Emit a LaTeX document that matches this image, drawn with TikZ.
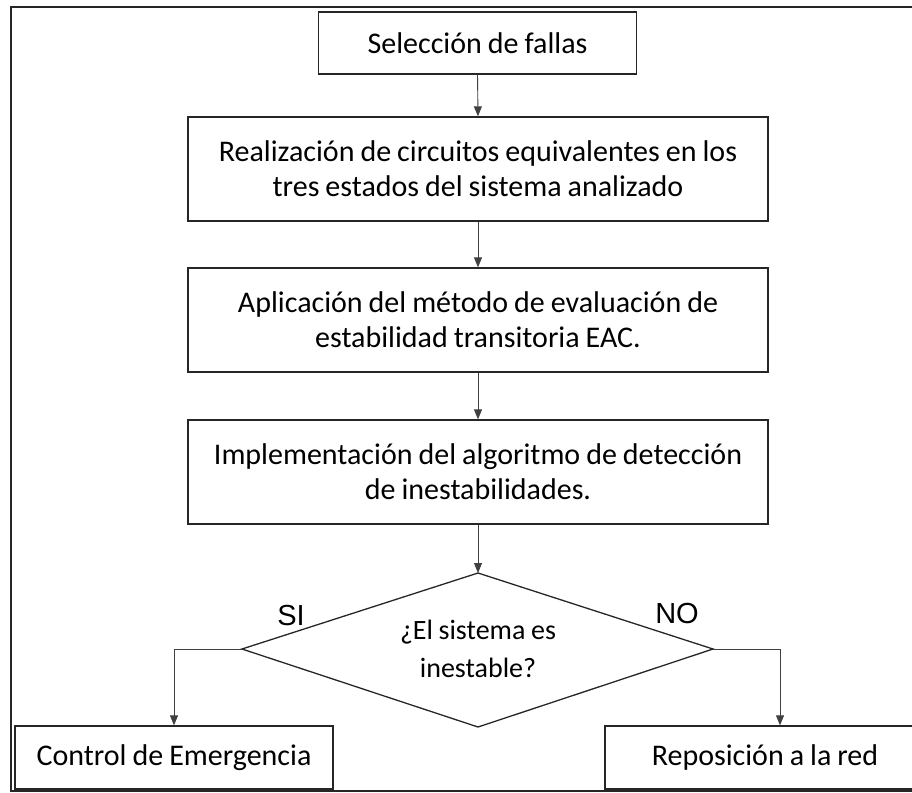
\documentclass[tikz,border=0pt]{standalone}
\usepackage{fontspec}
\setmainfont{Carlito}
\newfontfamily\arialfont{Liberation Sans}
\usetikzlibrary{arrows.meta}
\newcommand\tightspaces{\spaceskip=0.2em plus 0.05em minus 0.03em\relax}
\begin{document}
\begin{tikzpicture}[x=1pt,y=-1pt,
  box/.style={draw=black!85, line width=1.3pt, align=center, inner sep=0pt,
    font=\fontsize{30}{35}\selectfont, execute at begin node=\tightspaces},
  conn/.style={draw=black!75, line width=0.9pt, -{Triangle[width=8pt,length=10pt]}},
  lbl/.style={font=\arialfont\fontsize{29}{32}\selectfont, inner sep=0pt}]
\useasboundingbox (0,0) rectangle (912,792);
\draw[line width=2pt, black!85] (11,7.5) rectangle (930,791);

\node[box, minimum width=318pt, minimum height=62pt] (b1) at (477.5,43) {Selección de fallas};
\node[box, minimum width=580pt, minimum height=104pt] (b2) at (478,169)
  {Realización de circuitos equivalentes en los\\tres estados del sistema analizado};
\node[box, minimum width=580pt, minimum height=104pt] (b3) at (478,320)
  {Aplicación del método de evaluación de\\estabilidad transitoria EAC.};
\node[box, minimum width=580pt, minimum height=104pt] (b4) at (478,472)
  {Implementación del algoritmo de detección\\de inestabilidades.};

\coordinate (dt) at (478,573);
\coordinate (dr) at (713,649);
\coordinate (db) at (478,727);
\coordinate (dl) at (242,649);
\draw[black!85, line width=1.3pt] (dt) -- (dr) -- (db) -- (dl) -- cycle;
\node[align=center, inner sep=0pt, font=\fontsize{28}{38}\selectfont,
  execute at begin node=\tightspaces] (q) at (478,649)
  {¿El sistema es\\inestable?};

\node[box, minimum width=318pt, minimum height=63pt] (c1) at (174,757.5) {Control de Emergencia};
\node[box, minimum width=320pt, minimum height=63pt] (c2) at (765,757.5) {Reposición a la red};

\node[lbl] (si) at (291,616) {SI};
\node[lbl] (no) at (677,614) {NO};

\draw[conn] (b1.south) -- (b2.north);
\draw[conn] (b2.south) -- (b3.north);
\draw[conn] (b3.south) -- (b4.north);
\draw[conn] (b4.south) -- (dt);
\draw[conn] (dl) -| (c1.north);
\draw[conn] (dr) -| ([xshift=15pt]c2.north);
\end{tikzpicture}
\end{document}
